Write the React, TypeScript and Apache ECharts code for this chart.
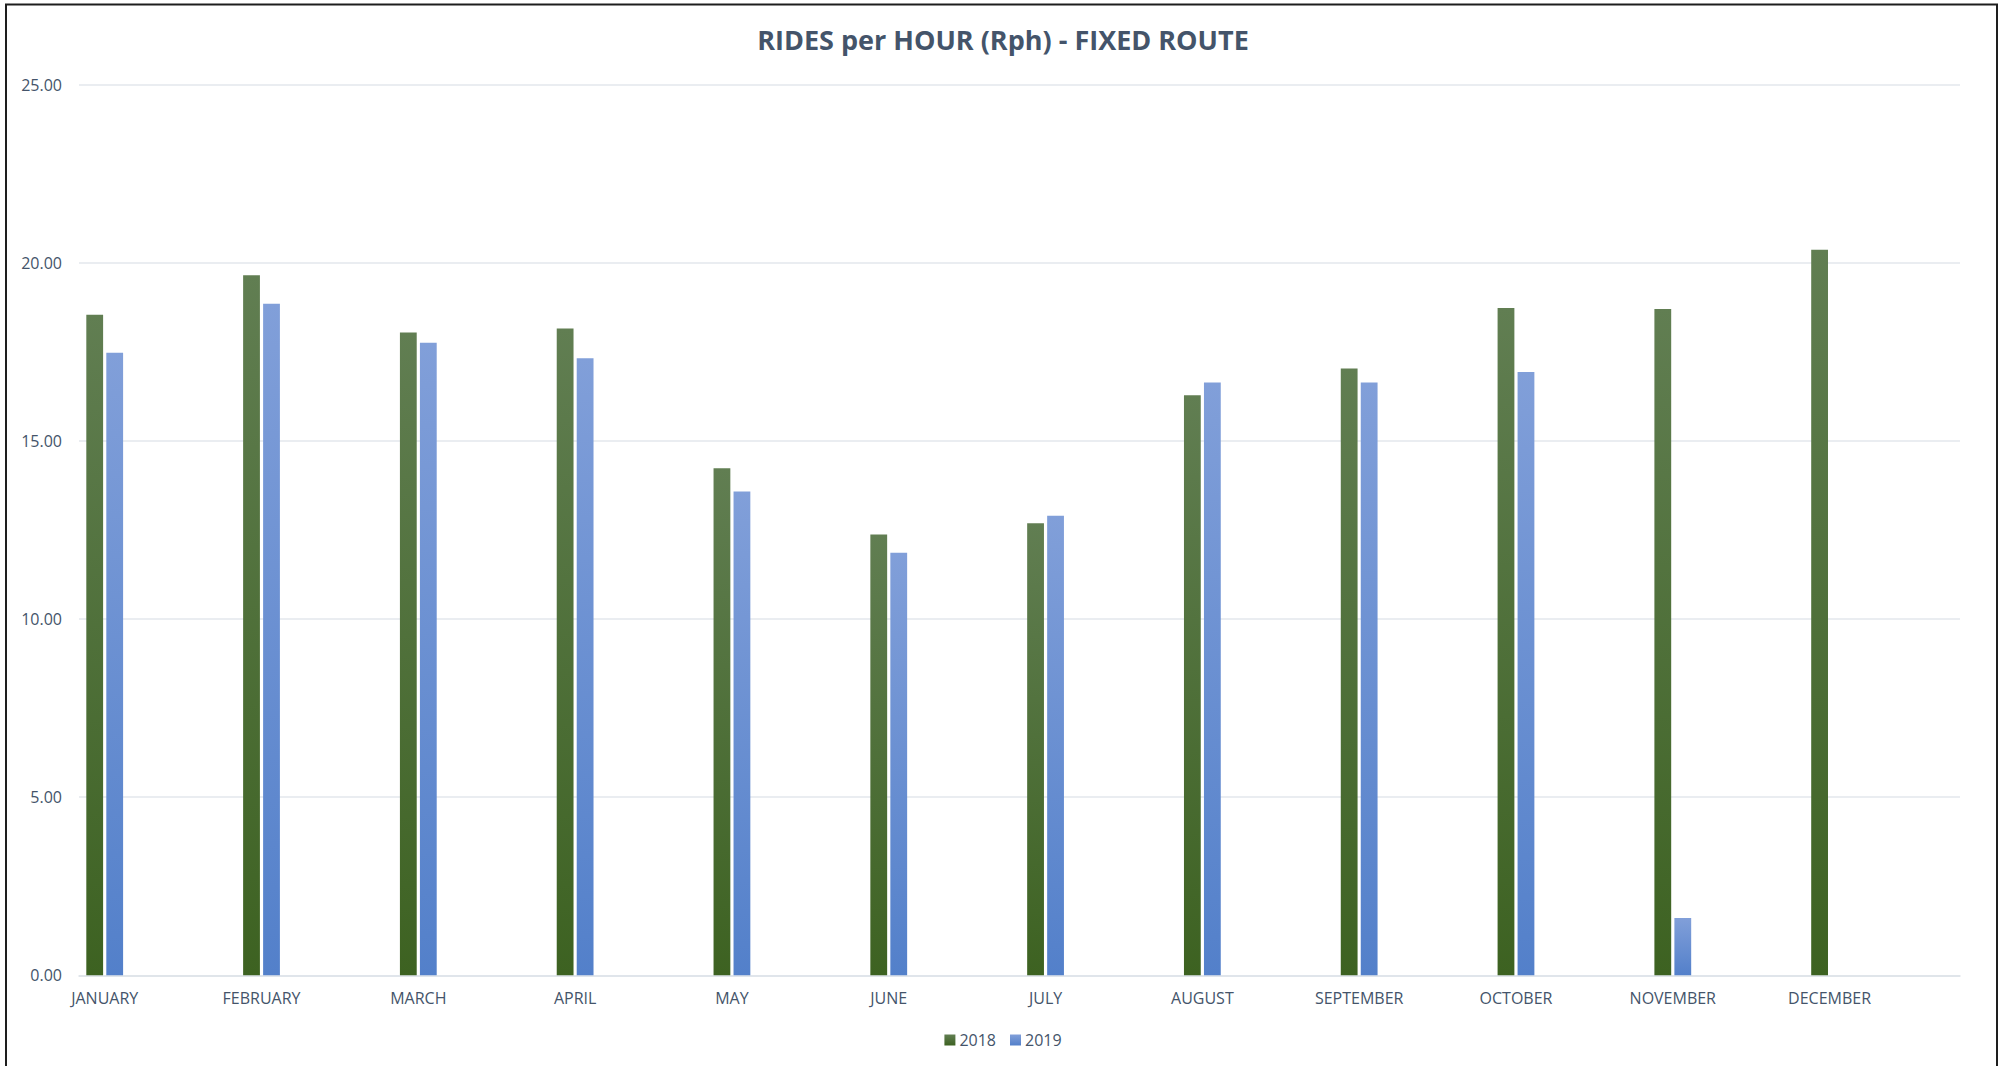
import React, { useEffect, useRef } from "react";
import * as echarts from "echarts";

const months = [
  "JANUARY", "FEBRUARY", "MARCH", "APRIL", "MAY", "JUNE",
  "JULY", "AUGUST", "SEPTEMBER", "OCTOBER", "NOVEMBER", "DECEMBER",
];
const rph2018 = [18.54, 19.65, 18.04, 18.15, 14.23, 12.37, 12.69, 16.28, 17.03, 18.73, 18.7, 20.36];
const rph2019 = [17.47, 18.85, 17.75, 17.32, 13.58, 11.86, 12.9, 16.64, 16.64, 16.93, 1.61, null];
const yTicks = { min: 0, max: 25, interval: 5 };
const title = "RIDES per HOUR (Rph) - FIXED ROUTE";

const TEXT = "#44546A";
const FONT = "'Open Sans', sans-serif";

const grad = (top: string, bottom: string) => ({
  type: "linear",
  x: 0, y: 0, x2: 0, y2: 1,
  colorStops: [
    { offset: 0, color: top },
    { offset: 1, color: bottom },
  ],
});

export default function App() {
  const ref = useRef<HTMLDivElement>(null);
  useEffect(() => {
    const chart = echarts.init(ref.current!, null, { renderer: "svg" });
    chart.setOption({
      animation: false,
      backgroundColor: "#ffffff",
      textStyle: { fontFamily: FONT },
      title: {
        text: title,
        left: "center",
        top: 21,
        textStyle: { color: TEXT, fontSize: 27, fontWeight: "bold", fontFamily: FONT },
      },
      legend: {
        bottom: 13,
        left: "center",
        icon: "rect",
        itemWidth: 11,
        itemHeight: 11,
        itemGap: 14,
        textStyle: { color: TEXT, fontSize: 16, fontFamily: FONT, padding: [0, 0, 0, -1] },
        data: ["2018", "2019"],
      },
      grid: [
        { left: 26.3, right: 98, top: 84.5, bottom: 90.7 },
        { left: 79, right: 46, top: 84.5, bottom: 90.7 },
      ],
      xAxis: [
        {
          type: "category",
          gridIndex: 0,
          data: months,
          axisLine: { show: false },
          axisTick: { show: false },
          axisLabel: { color: TEXT, fontSize: 16, fontFamily: FONT, margin: 15, interval: 0 },
          splitLine: { show: false },
        },
        {
          type: "value",
          gridIndex: 1,
          min: 0,
          max: 1,
          axisLine: { show: true, lineStyle: { color: "#dde2e8", width: 1.5 } },
          axisTick: { show: false },
          axisLabel: { show: false },
          splitLine: { show: false },
        },
      ],
      yAxis: [
        {
          type: "value",
          gridIndex: 0,
          ...yTicks,
          axisLine: { show: false },
          axisTick: { show: false },
          axisLabel: { show: false },
          splitLine: { show: false },
        },
        {
          type: "value",
          gridIndex: 1,
          ...yTicks,
          axisLine: { show: false },
          axisTick: { show: false },
          axisLabel: {
            color: TEXT,
            fontSize: 16,
            fontFamily: FONT,
            margin: 17,
            formatter: (v: number) => v.toFixed(2),
          },
          splitLine: { show: true, lineStyle: { color: "#e3e7ec", width: 1.5 } },
        },
      ],
      series: [
        {
          name: "2018",
          type: "bar",
          xAxisIndex: 0,
          yAxisIndex: 0,
          data: rph2018,
          barWidth: 16.8,
          barGap: "19%",
          itemStyle: { color: grad("#617e52", "#3d6221") },
        },
        {
          name: "2019",
          type: "bar",
          xAxisIndex: 0,
          yAxisIndex: 0,
          data: rph2019,
          barWidth: 16.8,
          barGap: "19%",
          itemStyle: { color: grad("#819fd9", "#5380ca") },
        },
      ],
      graphic: [
        {
          type: "rect",
          shape: { x: 6, y: 4.5, width: 1991, height: 1100 },
          style: { fill: "none", stroke: "#1e1e1e", lineWidth: 2 },
          silent: true,
        },
      ],
    });
    return () => chart.dispose();
  }, []);
  return (
    <div
      ref={ref}
      style={{ position: "fixed", left: 0, top: 0, width: 2006, height: 1066 }}
    />
  );
}
